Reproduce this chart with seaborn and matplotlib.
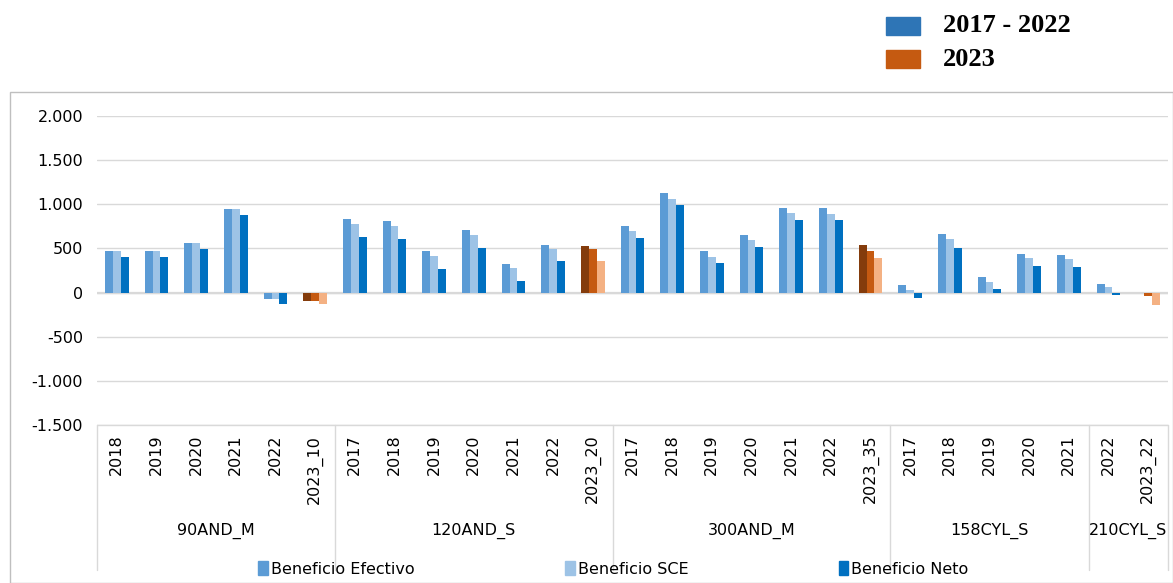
import matplotlib
matplotlib.use("Agg")
import matplotlib.pyplot as plt
import matplotlib.ticker as mticker
from matplotlib.patches import Rectangle, Patch
import seaborn as sns
import pandas as pd

# grupos y años del eje de categorías
groups = ["90AND_M", "120AND_S", "300AND_M", "158CYL_S", "210CYL_S"]
years = [
    ["2018", "2019", "2020", "2021", "2022", "2023_10"],
    ["2017", "2018", "2019", "2020", "2021", "2022", "2023_20"],
    ["2017", "2018", "2019", "2020", "2021", "2022", "2023_35"],
    ["2017", "2018", "2019", "2020", "2021"],
    ["2022", "2023_22"],
]
series = ["Beneficio Efectivo", "Beneficio SCE", "Beneficio Neto"]

# valores (mismo orden que years aplanado)
ben_efectivo = [466, 466, 560, 951, -72, -99,
                830, 807, 466, 705, 318, 542, 530,
                758, 1128, 466, 648, 955, 955, 534,
                88, 665, 178, 439, 430,
                100, -8]
ben_sce = [466, 466, 560, 951, -72, -99,
           773, 750, 413, 655, 273, 492, 489,
           693, 1064, 398, 591, 898, 894, 466,
           27, 602, 125, 390, 381,
           60, -42]
ben_neto = [398, 398, 496, 875, -133, -133,
            633, 610, 269, 508, 136, 356, 352,
            621, 992, 333, 519, 826, 826, 386,
            -64, 508, 38, 303, 295,
            -30, -140]

blue_cols = ["#5B9BD5", "#9DC3E6", "#0070C0"]
orange_cols = ["#843C0C", "#C55A11", "#F4B183"]

keys, labels = [], []
for g, ys in zip(groups, years):
    for y in ys:
        keys.append(g + "|" + y)
        labels.append(y)

rows = []
for s, vals in zip(series, [ben_efectivo, ben_sce, ben_neto]):
    for k, v in zip(keys, vals):
        rows.append({"cat": k, "serie": s, "valor": v})
df = pd.DataFrame(rows)

sns.set_style("white")
plt.rcParams["text.color"] = "black"
plt.rcParams["xtick.color"] = "black"
plt.rcParams["ytick.color"] = "black"

fig = plt.figure(figsize=(11.73, 5.83), dpi=100)
ax = fig.add_axes([97 / 1173, 1 - 425 / 583, (1168 - 97) / 1173, 309 / 583])

sns.barplot(data=df, x="cat", y="valor", hue="serie", order=keys, hue_order=series,
            palette=blue_cols, width=0.6, saturation=1, legend=False, ax=ax, zorder=3)

# barras de 2023 en naranja
for i, cont in enumerate(ax.containers):
    for j, bar in enumerate(cont):
        bar.set_linewidth(0)
        if labels[j].startswith("2023"):
            bar.set_facecolor(orange_cols[i])

ax.set_ylim(-1500, 2000)
ax.set_xlim(-0.5, len(keys) - 0.5)
ax.yaxis.set_major_locator(mticker.MultipleLocator(500))
ax.yaxis.set_major_formatter(mticker.FuncFormatter(lambda v, p: f"{int(v):,}".replace(",", ".")))
ax.grid(axis="y", color="#d9d9d9", lw=1, zorder=0)
ax.axhline(0, color="#d9d9d9", lw=1.6, zorder=2)
for s in ax.spines.values():
    s.set_visible(False)
ax.set_xlabel("")
ax.set_ylabel("")
ax.tick_params(axis="y", length=0, pad=10, labelsize=11.5)
ax.set_xticks(range(len(keys)))
ax.set_xticklabels(labels, rotation=90, va="top", fontsize=11.5)
ax.tick_params(axis="x", length=0, pad=7)

# tabla de categorías
trans = ax.get_xaxis_transform()
ybot = -(570 - 425) / 309
ax.plot([-0.5, len(keys) - 0.5], [0, 0], transform=trans, color="#d9d9d9", lw=1, clip_on=False)
start = 0
for g, ys in zip(groups, years):
    ax.plot([start - 0.5, start - 0.5], [0, ybot], transform=trans, color="#d9d9d9", lw=1, clip_on=False)
    ax.text(start + (len(ys) - 1) / 2, -(531 - 425) / 309, g, transform=trans,
            ha="center", va="center", fontsize=11.5)
    start += len(ys)
ax.plot([start - 0.5, start - 0.5], [0, ybot], transform=trans, color="#d9d9d9", lw=1, clip_on=False)

# leyenda inferior
handles = [Patch(color=c, label=s) for c, s in zip(blue_cols, series)]
fig.legend(handles=handles, loc="center", bbox_to_anchor=(0.523, 1 - 569 / 583), ncol=3,
           frameon=False, fontsize=11.5, handlelength=0.6, handleheight=0.9,
           handletextpad=0.2, columnspacing=9.4)

# marco exterior
fig.patches.append(Rectangle((10 / 1173, 0), 1 - 10 / 1173, 1 - 92 / 583, transform=fig.transFigure,
                             fill=False, edgecolor="#bfbfbf", lw=1))

# leyenda superior
fig.patches.append(Rectangle((886 / 1173, 1 - 35 / 583), 34 / 1173, 18 / 583,
                             transform=fig.transFigure, color="#2E75B6"))
fig.patches.append(Rectangle((886 / 1173, 1 - 68 / 583), 34 / 1173, 18 / 583,
                             transform=fig.transFigure, color="#C55A11"))
fig.text(943 / 1173, 1 - 26 / 583, "2017 - 2022", family="Liberation Serif", weight="bold",
         fontsize=19, va="center", ha="left")
fig.text(943 / 1173, 1 - 59 / 583, "2023", family="Liberation Serif", weight="bold",
         fontsize=19, va="center", ha="left")

fig.savefig("out.png", dpi=100)
